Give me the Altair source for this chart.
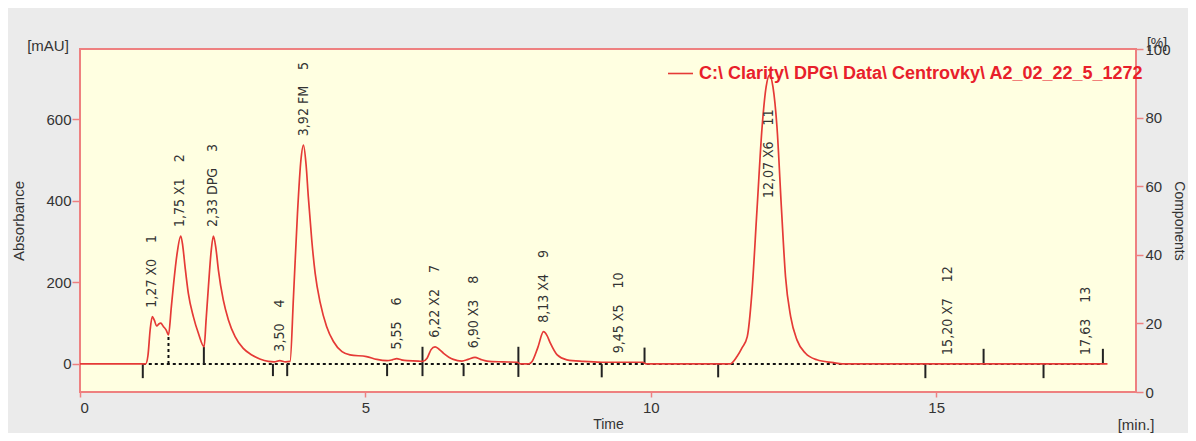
import altair as alt
import pandas as pd

series_name = "C:\\ Clarity\\ DPG\\ Data\\ Centrovky\\ A2_02_22_5_1272"

# chromatogram trace (time [min], absorbance [mAU])
t_curve = [0.0, 1.15, 1.19, 1.23, 1.267, 1.30, 1.344, 1.38, 1.415, 1.46, 1.51, 1.55,
           1.60, 1.635, 1.70, 1.765, 1.80, 1.84, 1.898, 1.986, 2.074, 2.174,
           2.21, 2.25, 2.30, 2.337, 2.38, 2.424, 2.51, 2.60, 2.717, 2.86, 3.01,
           3.15, 3.30, 3.40, 3.50, 3.60, 3.68, 3.74, 3.81, 3.87, 3.915, 3.96,
           4.00, 4.06, 4.12, 4.21, 4.32, 4.44, 4.59, 4.73, 5.02, 5.20, 5.38,
           5.47, 5.55, 5.63, 5.73, 5.93, 6.00, 6.08, 6.15, 6.22, 6.29, 6.37,
           6.54, 6.69, 6.80, 6.92, 7.02, 7.13, 7.40, 7.66, 7.72, 7.86, 7.92,
           8.02, 8.12, 8.18, 8.24, 8.36, 8.53, 8.82, 9.14, 9.45, 9.86, 9.92,
           11.39, 11.51, 11.60, 11.69, 11.77, 11.86, 11.95, 12.02, 12.08, 12.14,
           12.21, 12.29, 12.36, 12.45, 12.56, 12.71, 12.91, 13.20, 13.35, 18.0]
a_curve = [0, 0, 20, 85, 116, 108, 93, 98, 100, 92, 83, 71,
           140, 190, 270, 314, 290, 239, 173, 116, 75, 42,
           110, 190, 280, 314, 285, 231, 157, 108, 67, 38, 22,
           12, 6, 5, 8, 5, 6, 165, 370, 500, 537, 490,
           410, 304, 222, 149, 92, 55, 30, 22, 18, 11, 8,
           10, 13, 10, 8, 7, 6, 14, 35, 42, 36, 26,
           11, 7, 11, 16, 11, 7, 5, 4, 0, 0, 6,
           40, 79, 70, 51, 22, 10, 6, 4, 4, 4, 0,
           0, 18, 40, 67, 173, 378, 582, 680, 709, 680,
           582, 378, 214, 116, 59, 26, 10, 3, 0, 0]

# peak annotations
lbl_t = [1.27, 1.75, 2.33, 3.50, 3.92, 5.55, 6.22, 6.90, 8.13, 9.45, 12.07, 15.20, 17.63]
lbl_name = ["X0", "X1", "DPG", "", "FM", "", "X2", "X3", "X4", "X5", "X6", "X7", ""]
lbl_no = [1, 2, 3, 4, 5, 6, 7, 8, 9, 10, 11, 12, 13]
lbl_at = [116, 314, 314, 8, 537, 13, 42, 16, 79, 4, 385, 0, 0]

# peak boundary markers (time, bottom, top in mAU)
bnd_t = [1.10, 2.17, 3.38, 3.63, 5.38, 6.00, 6.72, 7.68, 9.14, 9.89, 11.18, 14.81, 15.83, 16.88, 17.92]
bnd_lo = [-35, 0, -30, -30, -30, -30, -30, -32, -33, 0, -33, -35, 0, -35, 0]
bnd_hi = [0, 42, 0, 0, 0, 42, 0, 42, 0, 40, 0, 0, 37, 0, 37]
drop_t = [1.55]
drop_hi = [71]
base_t = [1.10, 17.92]
base_a = [0, 0]

abs_ticks = [0, 200, 400, 600]
time_ticks = [0, 5, 10, 15]
comp_ticks = [0, 20, 40, 60, 80, 100]

FONT = "Liberation Sans, Arial, sans-serif"
LBL_FONT = "DejaVu Sans Condensed, Liberation Sans Narrow, Liberation Sans"
PINK = "#ee8080"
RED = "#e53a36"
TXT = "#333333"

gap = " \u00a0\u00a0\u00a0"
lbl_text = []
for t, n, k in zip(lbl_t, lbl_name, lbl_no):
    s = f"{t:.2f}".replace(".", ",")
    if n:
        s += " " + n
    lbl_text.append(s + gap + str(k))

curve_df = pd.DataFrame({"t": t_curve, "a": a_curve, "series": series_name})
lbl_df = pd.DataFrame({"t": lbl_t, "a": lbl_at, "txt": lbl_text})
bnd_df = pd.DataFrame({"t": bnd_t, "lo": bnd_lo, "hi": bnd_hi})
drop_df = pd.DataFrame({"t": drop_t, "lo": [0] * len(drop_t), "hi": drop_hi})
base_df = pd.DataFrame({"t": base_t, "a": base_a})

xscale = alt.Scale(domain=[0, 18.5], nice=False, zero=False)
yscale = alt.Scale(domain=[-69, 773], nice=False, zero=False)

xaxis = alt.Axis(values=time_ticks, title="Time", grid=False, domain=False,
                 tickColor=PINK, tickSize=5, tickWidth=1.5, labelFontSize=15,
                 labelFont=FONT, labelColor=TXT, labelPadding=3,
                 titleFont=FONT, titleFontSize=14, titleFontWeight="normal",
                 titleColor=TXT, titlePadding=2)
yaxis = alt.Axis(values=abs_ticks, title="Absorbance", grid=False, domain=False,
                 orient="left", tickColor=PINK, tickSize=8, tickWidth=1.5,
                 labelFontSize=15, labelFont=FONT, labelColor=TXT, labelPadding=1,
                 titleFont=FONT, titleFontSize=15, titleFontWeight="normal",
                 titleColor=TXT, titlePadding=19)

X = alt.X("t:Q", scale=xscale, axis=xaxis)

baseline = alt.Chart(base_df).mark_line(color="#111111", strokeWidth=2,
                                        strokeDash=[3, 3]).encode(
    x=X, y=alt.Y("a:Q", scale=yscale, axis=yaxis))

ticks = alt.Chart(bnd_df).mark_rule(color="#222222", strokeWidth=2).encode(
    x=X, y=alt.Y("lo:Q", scale=yscale, axis=yaxis), y2="hi:Q")

drops = alt.Chart(drop_df).mark_rule(color="#111111", strokeWidth=2,
                                     strokeDash=[3, 3]).encode(
    x=X, y=alt.Y("lo:Q", scale=yscale, axis=yaxis), y2="hi:Q")

curve = alt.Chart(curve_df).mark_line(strokeWidth=1.7, interpolate="monotone").encode(
    x=X, y=alt.Y("a:Q", scale=yscale, axis=yaxis),
    color=alt.Color("series:N", scale=alt.Scale(range=[RED]),
                    legend=alt.Legend(orient="none", legendX=587, legendY=11,
                                      title=None, symbolType="stroke",
                                      symbolStrokeColor=RED, symbolStrokeWidth=1.6,
                                      symbolSize=625, labelFont=FONT,
                                      labelFontSize=18, labelFontWeight="bold",
                                      labelColor="#e8202a", labelLimit=0,
                                      labelOffset=5, padding=0)))

labels = alt.Chart(lbl_df).mark_text(angle=270, align="left", baseline="middle",
                                     dx=9, font=LBL_FONT, fontSize=14, color=TXT).encode(
    x=X, y=alt.Y("a:Q", scale=yscale, axis=yaxis), text="txt:N")

left = alt.layer(baseline, ticks, drops, curve, labels)

right = alt.Chart(pd.DataFrame({"pct": comp_ticks})).mark_point(opacity=0).encode(
    y=alt.Y("pct:Q", scale=alt.Scale(domain=[0, 100], nice=False, zero=False),
            axis=alt.Axis(orient="right", values=comp_ticks, title="Components",
                          grid=False, domain=False, tickColor=PINK, tickSize=7,
                          tickWidth=1.5, labelFontSize=15, labelFont=FONT,
                          labelColor=TXT, labelPadding=2, titleFont=FONT,
                          titleFontSize=14, titleFontWeight="normal",
                          titleColor=TXT, titlePadding=1, titleAngle=90)))


def note(txt, x, y, align="center", size=15):
    return alt.Chart(pd.DataFrame({"txt": [txt]})).mark_text(
        font=FONT, fontSize=size, color=TXT, align=align, baseline="middle").encode(
        x=alt.value(x), y=alt.value(y), text="txt:N")


notes = [note("[mAU]", -32, -3), note("[%]", 1077, -5, size=14),
         note("[min.]", 1056, 376)]

chart = alt.layer(left, right, *notes).resolve_scale(y="independent").properties(
    width=1056, height=343,
    padding={"left": 72, "top": 41, "right": 52, "bottom": 41},
    autosize=alt.AutoSizeParams(type="none"),
    background="#ebebeb",
).configure_view(fill="#ffffe1", stroke=PINK, strokeWidth=2)

chart.save("out.html", embed_options={"renderer": "svg", "actions": False})
